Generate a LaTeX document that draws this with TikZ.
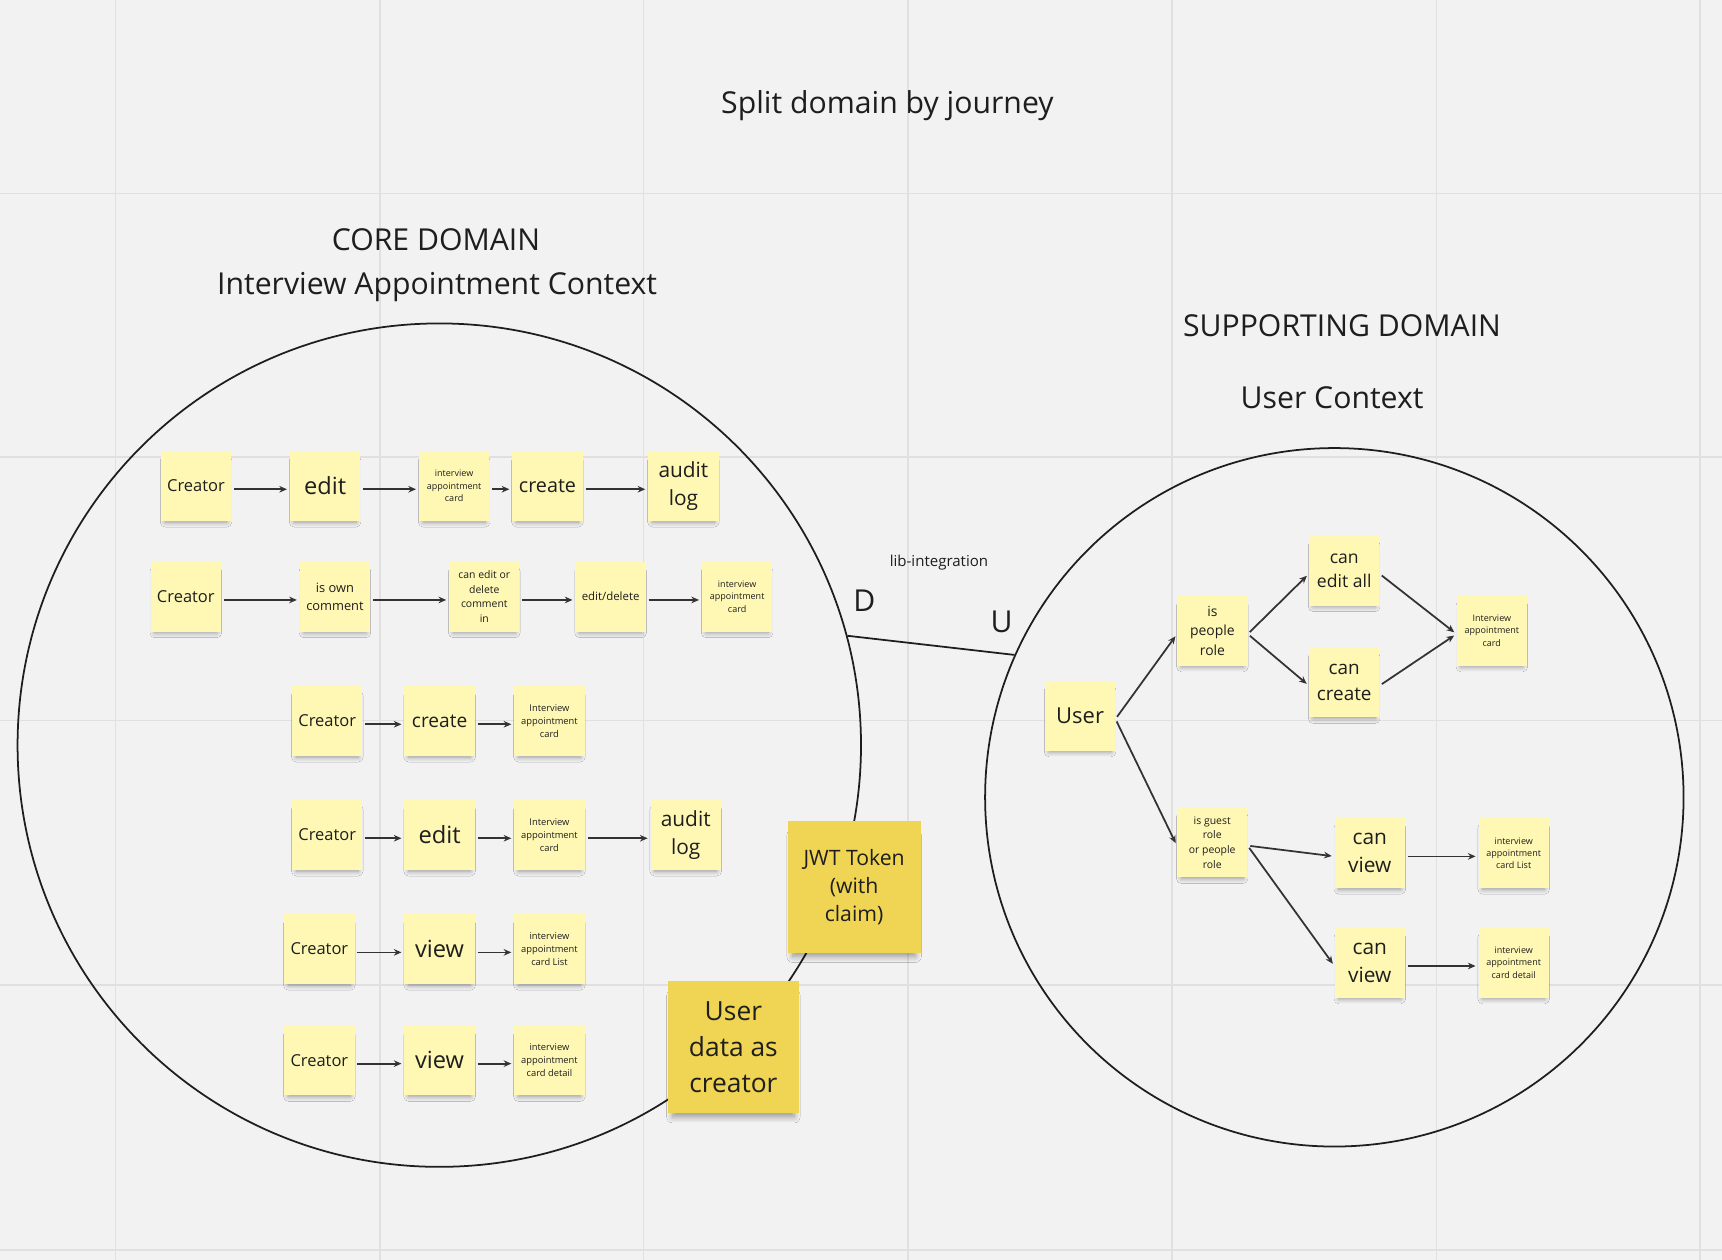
\documentclass[tikz,border=0pt]{standalone}
\usepackage{fontspec}
\setmainfont{Open Sans}
\usetikzlibrary{arrows.meta,shadows.blur}
\definecolor{bgc}{HTML}{F2F2F2}
\definecolor{gridc}{HTML}{E0E0E0}
\definecolor{notec}{HTML}{FFF8B4}
\definecolor{notedark}{HTML}{F0D453}
\definecolor{ink}{HTML}{1E1E1E}
\definecolor{arrc}{HTML}{333333}
\newcommand{\fz}[2]{\fontsize{#1}{#2}\selectfont}
\newcommand{\flowarr}[2]{\draw[flow] ([yshift=-3pt]#1.east) -- ([yshift=-3pt]#2.west);}
\tikzset{
  stickynote/.style={rectangle, fill=notec, minimum width=64pt, minimum height=64pt,
    inner sep=1pt, align=center, text=ink,
    blur shadow={shadow xshift=0pt, shadow yshift=-5.5pt, shadow blur radius=5pt,
      shadow blur steps=8, shadow opacity=38, shadow scale=0.88}},
  bignote/.style={rectangle, fill=notedark, minimum width=120pt, minimum height=120pt,
    inner sep=1pt, align=center, text=ink,
    blur shadow={shadow xshift=0pt, shadow yshift=-9pt, shadow blur radius=6pt,
      shadow blur steps=8, shadow opacity=38, shadow scale=0.92}},
  flow/.style={draw=arrc, line width=1.6pt, -{Stealth[length=7pt,width=6pt]},
    shorten <=2.5pt, shorten >=2.5pt},
  title/.style={text=ink, font=\fz{27.5}{34}, anchor=base, inner sep=0pt},
  ctx/.style={draw=ink, line width=1.6pt, circle, inner sep=0pt},
  gridline/.style={draw=gridc, line width=1.4pt}
}
\begin{document}
\begin{tikzpicture}[x=1pt,y=-1pt]
\fill[bgc] (0,0) rectangle (1568,1147);
\useasboundingbox (0,0) rectangle (1568,1147);
\foreach \gx in {105,346,586,827,1067,1308,1548} \draw[gridline] (\gx,0) -- (\gx,1147);
\foreach \gy in {176,416,656,897,1138} \draw[gridline] (0,\gy) -- (1568,\gy);

% titles
\node[title] (maintitle) at (808,103) {Split domain by journey};
\node[title] (coretitle) at (397,228) {CORE DOMAIN};
\node[title] (coresub) at (398,268) {Interview Appointment Context};
\node[title] (supptitle) at (1222,306) {SUPPORTING DOMAIN};
\node[title] (suppsub) at (1213,372) {User Context};

% contexts
\node[ctx, minimum size=768pt] (core) at (400,678.5) {};
\node[ctx, minimum size=636pt] (supp) at (1215,726) {};
\draw[draw=ink, line width=1.6pt] (core.15.7) -- (supp.156);
\node[text=ink, font=\fz{13.7}{17}, anchor=base, inner sep=0pt] (lib) at (855,516) {lib-integration};
\node[text=ink, font=\fz{27.5}{34}, anchor=base, inner sep=0pt] (dlabel) at (787,557) {D};
\node[text=ink, font=\fz{27.5}{34}, anchor=base, inner sep=0pt] (ulabel) at (912,576) {U};

% row 1
\node[stickynote, font=\fz{15}{20.5}] (c1) at (178.5,442.5) {Creator};
\node[stickynote, font=\fz{21.5}{29}] (e1) at (296,442.5) {edit};
\node[stickynote, font=\fz{8.2}{11.2}] (i1) at (413.5,442.5) {interview\\appointment\\card};
\node[stickynote, font=\fz{18}{24}] (cr1) at (498.5,442.5) {create};
\node[stickynote, font=\fz{19}{25.5}] (a1) at (622.3,442.5) {audit\\log};
% row 2
\node[stickynote, font=\fz{15}{20.5}] (c2) at (169.2,543.3) {Creator};
\node[stickynote, font=\fz{11.7}{16.1}] (o2) at (305,543.3) {is own\\comment};
\node[stickynote, font=\fz{9.5}{13.4}] (ce2) at (441,543.3) {can edit or\\delete\\comment\\in};
\node[stickynote, font=\fz{10.4}{14}] (ed2) at (556,543.3) {edit/delete};
\node[stickynote, font=\fz{8.2}{11.4}] (i2) at (671.2,543.3) {interview\\appointment\\card};
% row 3
\node[stickynote, font=\fz{15}{20.5}] (c3) at (298,656.5) {Creator};
\node[stickynote, font=\fz{17.4}{24}] (cr3) at (400.3,656.5) {create};
\node[stickynote, font=\fz{8.5}{12}] (i3) at (500.3,656.5) {Interview\\appointment\\card};
% row 4
\node[stickynote, font=\fz{15}{20.5}] (c4) at (298,760.3) {Creator};
\node[stickynote, font=\fz{21.6}{29}] (e4) at (400.3,760.3) {edit};
\node[stickynote, font=\fz{8.5}{12}] (i4) at (500.3,760.3) {Interview\\appointment\\card};
\node[stickynote, font=\fz{19}{25.5}] (a4) at (624.4,760.3) {audit\\log};
% row 5
\node[stickynote, font=\fz{15}{20.5}] (c5) at (290.8,864.2) {Creator};
\node[stickynote, font=\fz{21.5}{29}] (v5) at (400.3,864.2) {view};
\node[stickynote, font=\fz{8.5}{12}] (i5) at (500.3,864.2) {interview\\appointment\\card List};
% row 6
\node[stickynote, font=\fz{15}{20.5}] (c6) at (290.8,965.5) {Creator};
\node[stickynote, font=\fz{21.5}{29}] (v6) at (400.3,965.5) {view};
\node[stickynote, font=\fz{8.5}{12}] (i6) at (500.3,965.5) {interview\\appointment\\card detail};

% dark notes
\node[bignote, minimum width=121pt, font=\fz{19.3}{25.5}] (jwt) at (777.7,807.4) {JWT Token\\(with\\claim)};
\node[bignote, font=\fz{24}{33}] (udc) at (667.8,953.5) {User\\data as\\creator};

% right side
\node[stickynote, font=\fz{20}{26}] (user) at (983.5,651.7) {User};
\node[stickynote, font=\fz{12.7}{17.8}] (ipr) at (1104,574.3) {is\\people\\role};
\node[stickynote, font=\fz{16}{22.2}] (cea) at (1224,519.5) {can\\edit all};
\node[stickynote, font=\fz{17.2}{23.7}] (ccr) at (1224,621.3) {can\\create};
\node[stickynote, font=\fz{8.2}{11.5}] (iacr) at (1358.4,574.3) {Interview\\appointment\\card};
\node[stickynote, font=\fz{9.5}{13.3}] (igr) at (1103.8,767) {is guest\\role\\or people\\role};
\node[stickynote, font=\fz{19}{25.8}] (cv1) at (1247.3,776.8) {can\\view};
\node[stickynote, font=\fz{19}{25.8}] (cv2) at (1247.3,876.6) {can\\view};
\node[stickynote, font=\fz{8.2}{11}] (il) at (1378.3,776.8) {interview\\appointment\\card List};
\node[stickynote, font=\fz{8.2}{11}] (idt) at (1378.3,876.6) {interview\\appointment\\card detail};

% arrows left
\flowarr{c1}{e1} \flowarr{e1}{i1} \flowarr{i1}{cr1} \flowarr{cr1}{a1}
\flowarr{c2}{o2} \flowarr{o2}{ce2} \flowarr{ce2}{ed2} \flowarr{ed2}{i2}
\flowarr{c3}{cr3} \flowarr{cr3}{i3}
\flowarr{c4}{e4} \flowarr{e4}{i4} \flowarr{i4}{a4}
\flowarr{c5}{v5} \flowarr{v5}{i5}
\flowarr{c6}{v6} \flowarr{v6}{i6}
% arrows right
\flowarr{user}{ipr} \flowarr{user}{igr}
\flowarr{ipr}{cea} \flowarr{ipr}{ccr}
\flowarr{cea}{iacr} \flowarr{ccr}{iacr}
\flowarr{igr}{cv1} \flowarr{igr}{cv2}
\flowarr{cv1}{il} \flowarr{cv2}{idt}
\end{tikzpicture}
\end{document}
